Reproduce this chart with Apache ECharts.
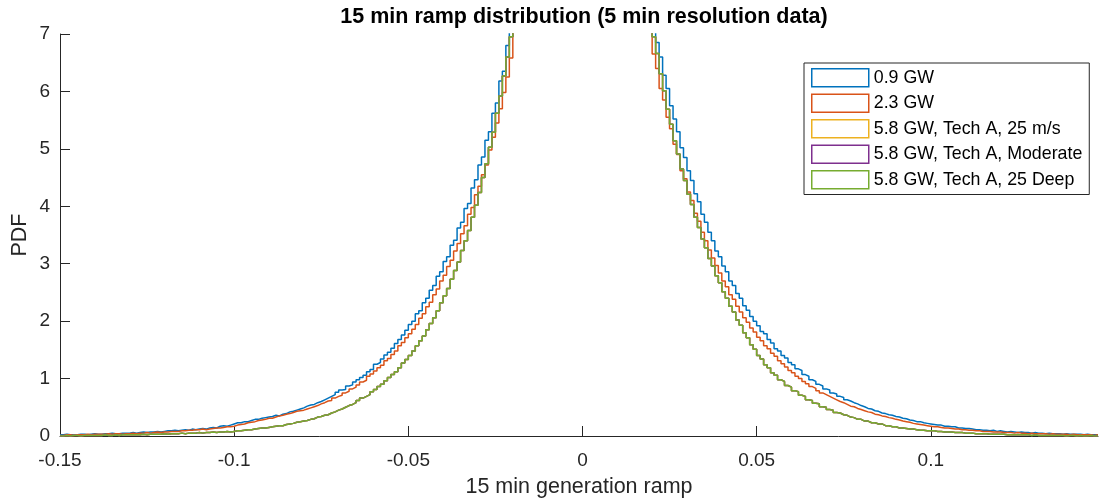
<!DOCTYPE html>
<html><head><meta charset="utf-8">
<script src="https://cdn.jsdelivr.net/npm/echarts@6/dist/echarts.min.js"></script>
<style>html,body{margin:0;padding:0;background:#fff}#c{width:1100px;height:499px}</style>
</head><body><div id="c"></div>
<script>
const chartTitle = '15 min ramp distribution (5 min resolution data)';
const xName = '15 min generation ramp';
const yName = 'PDF';
const xTickValues = [-0.15, -0.1, -0.05, 0, 0.05, 0.1];
const xTickLabels = ['-0.15', '-0.1', '-0.05', '0', '0.05', '0.1'];
const yTickValues = [0, 1, 2, 3, 4, 5, 6, 7];
const seriesNames = ['0.9 GW', '2.3 GW', '5.8 GW, Tech A, 25 m/s', '5.8 GW, Tech A, Moderate', '5.8 GW, Tech A, 25 Deep'];
const seriesColors = ['#0072BD', '#D95319', '#EDB120', '#7E2F8E', '#77AC30'];
// histogram bins: left edge of first bin and bin width (x units)
const binStart = -0.15;
const binWidth = 0.001;

// PDF per bin, left to right (298 bins from -0.150 to 0.148); bins near 0 are above the 7 limit
const gw09 = [
0.02,0.03,0.02,0.02,0.02,0.03,0.03,0.02,0.03,0.04,
0.03,0.03,0.04,0.04,0.05,0.04,0.04,0.05,0.05,0.05,
0.06,0.05,0.06,0.07,0.06,0.07,0.07,0.08,0.07,0.08,
0.09,0.09,0.10,0.09,0.10,0.11,0.10,0.12,0.11,0.12,
0.13,0.12,0.14,0.15,0.14,0.17,0.18,0.17,0.19,0.21,
0.23,0.23,0.25,0.25,0.27,0.29,0.29,0.31,0.32,0.33,
0.34,0.36,0.35,0.38,0.39,0.42,0.43,0.45,0.47,0.49,
0.52,0.54,0.55,0.58,0.60,0.63,0.66,0.69,0.72,0.76,
0.80,0.81,0.87,0.89,0.94,0.98,1.02,1.06,1.12,1.16,
1.25,1.28,1.34,1.41,1.46,1.53,1.61,1.68,1.76,1.84,
1.94,2.00,2.13,2.18,2.32,2.40,2.54,2.62,2.78,2.86,
3.04,3.12,3.32,3.41,3.62,3.72,3.96,4.05,4.32,4.46,
4.72,4.86,5.15,5.30,5.62,5.80,6.18,6.35,6.80,7.10,
7.5,7.9,8.3,8.8,9.2,9.7,10.2,10.8,11.3,11.9,12.5,13.1,13.8,14.5,15.2,16.0,16.8,17.6,18.4,19.0,
19.0,18.4,17.6,16.8,16.0,15.2,14.5,13.8,13.1,12.5,11.9,11.3,10.8,10.2,9.7,9.2,8.8,8.3,7.9,7.5,
7.05,6.85,6.60,6.28,6.05,5.75,5.52,5.30,5.02,4.85,
4.62,4.45,4.22,4.08,3.86,3.72,3.55,3.40,3.22,3.12,
2.96,2.86,2.70,2.62,2.48,2.40,2.27,2.19,2.08,2.00,
1.92,1.82,1.78,1.68,1.62,1.52,1.48,1.40,1.36,1.28,
1.24,1.17,1.14,1.07,1.04,0.98,0.95,0.90,0.87,0.82,
0.80,0.75,0.73,0.69,0.67,0.63,0.61,0.58,0.56,0.53,
0.51,0.48,0.47,0.44,0.43,0.40,0.39,0.37,0.36,0.34,
0.33,0.31,0.30,0.28,0.27,0.25,0.25,0.23,0.22,0.21,
0.20,0.19,0.19,0.17,0.17,0.16,0.16,0.14,0.14,0.13,
0.13,0.12,0.11,0.11,0.10,0.10,0.09,0.10,0.08,0.09,
0.08,0.07,0.08,0.07,0.06,0.07,0.06,0.06,0.05,0.06,
0.05,0.05,0.04,0.05,0.04,0.04,0.04,0.03,0.04,0.03,
0.03,0.03,0.03,0.02,0.03,0.02,0.02,0.02
];
const gw23 = [
0.01,0.02,0.02,0.01,0.02,0.02,0.02,0.03,0.02,0.03,
0.03,0.03,0.03,0.04,0.03,0.04,0.04,0.03,0.04,0.04,
0.05,0.04,0.05,0.05,0.06,0.05,0.06,0.07,0.06,0.07,
0.07,0.08,0.08,0.08,0.09,0.09,0.10,0.10,0.11,0.11,
0.12,0.11,0.12,0.13,0.14,0.14,0.15,0.16,0.16,0.17,
0.19,0.20,0.21,0.23,0.24,0.25,0.27,0.28,0.29,0.31,
0.31,0.33,0.35,0.36,0.38,0.39,0.41,0.43,0.44,0.45,
0.47,0.49,0.51,0.53,0.56,0.58,0.61,0.62,0.66,0.69,
0.71,0.75,0.78,0.82,0.85,0.89,0.94,0.97,1.04,1.08,
1.13,1.19,1.23,1.31,1.35,1.42,1.48,1.57,1.63,1.71,
1.78,1.86,1.94,2.05,2.13,2.25,2.33,2.46,2.56,2.70,
2.80,2.95,3.06,3.22,3.35,3.52,3.66,3.86,3.98,4.20,
4.35,4.55,4.72,4.98,5.20,5.45,5.70,5.98,6.25,6.58,
7.2,7.5,7.9,8.3,8.7,9.1,9.6,10.1,10.6,11.2,11.8,12.4,13.0,13.7,14.4,15.1,15.9,16.7,17.5,18.2,
18.2,17.5,16.7,15.9,15.1,14.4,13.7,13.0,12.4,11.8,11.2,10.6,10.1,9.6,9.1,8.7,8.3,7.9,7.5,7.2,
6.65,6.40,6.05,5.85,5.55,5.35,5.08,4.90,4.62,4.48,
4.25,4.10,3.88,3.74,3.55,3.40,3.24,3.10,2.97,2.84,
2.70,2.60,2.46,2.38,2.26,2.16,2.06,1.98,1.88,1.81,
1.72,1.66,1.57,1.52,1.44,1.39,1.31,1.26,1.20,1.14,
1.10,1.04,1.00,0.95,0.91,0.86,0.83,0.79,0.75,0.72,
0.69,0.66,0.63,0.60,0.58,0.55,0.52,0.51,0.48,0.46,
0.44,0.42,0.41,0.38,0.37,0.35,0.34,0.32,0.31,0.29,
0.28,0.26,0.25,0.24,0.22,0.21,0.20,0.19,0.18,0.17,
0.16,0.16,0.15,0.14,0.14,0.13,0.12,0.12,0.11,0.11,
0.10,0.10,0.09,0.09,0.08,0.08,0.08,0.07,0.07,0.07,
0.06,0.06,0.06,0.05,0.06,0.05,0.05,0.04,0.05,0.04,
0.04,0.04,0.04,0.03,0.04,0.03,0.03,0.03,0.03,0.02,
0.03,0.02,0.02,0.02,0.02,0.02,0.01,0.02
];
const deep25 = [
0.00,0.01,0.00,0.01,0.01,0.00,0.01,0.01,0.01,0.01,
0.01,0.01,0.02,0.01,0.01,0.02,0.01,0.02,0.02,0.02,
0.02,0.02,0.02,0.03,0.02,0.03,0.03,0.03,0.03,0.04,
0.03,0.04,0.04,0.04,0.05,0.04,0.05,0.05,0.05,0.06,
0.05,0.06,0.06,0.07,0.06,0.07,0.07,0.08,0.07,0.08,
0.09,0.09,0.10,0.11,0.11,0.12,0.13,0.14,0.14,0.15,
0.16,0.17,0.18,0.18,0.20,0.21,0.22,0.24,0.25,0.26,
0.27,0.29,0.30,0.33,0.34,0.36,0.37,0.40,0.42,0.45,
0.47,0.50,0.53,0.55,0.58,0.62,0.66,0.69,0.72,0.77,
0.81,0.86,0.90,0.96,1.02,1.07,1.12,1.19,1.27,1.33,
1.40,1.48,1.57,1.66,1.74,1.85,1.96,2.06,2.18,2.32,
2.44,2.57,2.73,2.88,3.03,3.23,3.40,3.58,3.81,4.02,
4.24,4.50,4.74,5.03,5.29,5.62,5.92,6.27,6.60,6.95,
7.3,7.7,8.1,8.6,9.1,9.6,10.2,10.8,11.4,12.0,12.7,13.4,14.1,14.9,15.7,16.5,17.4,18.3,19.2,20.0,
20.0,19.2,18.3,17.4,16.5,15.7,14.9,14.1,13.4,12.7,12.0,11.4,10.8,10.2,9.6,9.1,8.6,8.1,7.7,7.3,
6.95,6.66,6.31,6.01,5.69,5.43,5.14,4.91,4.65,4.45,
4.21,4.03,3.81,3.63,3.43,3.28,3.09,2.96,2.79,2.67,
2.51,2.40,2.26,2.16,2.02,1.93,1.80,1.71,1.59,1.51,
1.40,1.34,1.24,1.19,1.10,1.06,0.98,0.95,0.88,0.85,
0.79,0.77,0.71,0.69,0.63,0.62,0.57,0.56,0.51,0.50,
0.46,0.45,0.41,0.40,0.37,0.36,0.33,0.32,0.29,0.29,
0.26,0.26,0.23,0.23,0.21,0.21,0.18,0.18,0.16,0.16,
0.14,0.14,0.13,0.12,0.12,0.11,0.10,0.10,0.09,0.09,
0.09,0.08,0.08,0.07,0.07,0.07,0.06,0.06,0.06,0.05,
0.05,0.05,0.04,0.04,0.04,0.04,0.03,0.03,0.03,0.03,
0.03,0.02,0.02,0.02,0.02,0.02,0.02,0.02,0.01,0.02,
0.01,0.01,0.01,0.01,0.01,0.01,0.01,0.01,0.00,0.01,
0.01,0.00,0.01,0.00,0.00,0.01,0.00,0.00
];
// The 25 m/s and Moderate curves are indistinguishable from 25 Deep in the reference (drawn underneath it)
const ms25 = deep25;
const moderate = deep25;

const seriesValues = [gw09, gw23, ms25, moderate, deep25];

function stairs(vals) {
  const pts = [];
  for (let i = 0; i < vals.length; i++) pts.push([+(binStart + i * binWidth).toFixed(4), vals[i]]);
  pts.push([+(binStart + vals.length * binWidth).toFixed(4), vals[vals.length - 1]]);
  return pts;
}

const FONT = '"Liberation Sans", Arial, Helvetica, sans-serif';
const chart = echarts.init(document.getElementById('c'), null, { renderer: 'canvas' });
chart.setOption({
  animation: false,
  backgroundColor: '#fff',
  grid: { left: 60, right: 2, top: 34, bottom: 63, containLabel: false, outerBoundsMode: 'none' },
  graphic: [{
    type: 'text', x: 584, y: 17,
    style: { text: chartTitle, textAlign: 'center', textVerticalAlign: 'middle', fill: '#000',
      font: 'bold 21.5px ' + FONT }
  }],
  legend: {
    orient: 'vertical', left: 804, top: 63,
    itemWidth: 57, itemHeight: 18, itemGap: 6,
    padding: [5, 7, 5, 7],
    borderColor: '#262626', borderWidth: 1, borderRadius: 0, backgroundColor: '#fff',
    icon: 'rect',
    textStyle: { fontFamily: FONT, fontSize: 17.8, color: '#000' },
    data: seriesNames.map((n, i) => ({ name: n, icon: 'rect', itemStyle: { color: '#fff', borderColor: seriesColors[i], borderWidth: 1.5 } }))
  },
  xAxis: {
    type: 'value', min: -0.15, max: 0.148,
    axisLine: { onZero: false, lineStyle: { color: '#262626', width: 1 } },
    axisTick: { inside: true, length: 10, lineStyle: { color: '#262626' }, customValues: xTickValues },
    axisLabel: { customValues: xTickValues, fontFamily: FONT, fontSize: 19, color: '#262626', margin: 15,
      formatter: v => { const k = xTickValues.findIndex(t => Math.abs(t - v) < 1e-9); return k >= 0 ? xTickLabels[k] : ''; } },
    splitLine: { show: false },
    name: xName, nameLocation: 'middle', nameGap: 40, nameMoveOverlap: false,
    nameTextStyle: { fontFamily: FONT, fontSize: 21.5, color: '#262626' }
  },
  yAxis: {
    type: 'value', min: 0, max: 7, interval: 1,
    axisLine: { show: true, onZero: false, lineStyle: { color: '#262626', width: 1 } },
    axisTick: { show: true, inside: true, length: 10, lineStyle: { color: '#262626' } },
    axisLabel: { fontFamily: FONT, fontSize: 19, color: '#262626', margin: 10, padding: [6, 0, 0, 0],
      formatter: v => String(yTickValues[yTickValues.indexOf(v)] ?? v) },
    splitLine: { show: false },
    name: yName, nameLocation: 'middle', nameGap: 29, nameRotate: 90, nameMoveOverlap: false,
    nameTextStyle: { fontFamily: FONT, fontSize: 21.5, color: '#262626' }
  },
  series: seriesValues.map((vals, i) => ({
    type: 'line', name: seriesNames[i], data: stairs(vals), step: 'end',
    symbol: 'none', showSymbol: false, clip: true, z: 2 + i,
    lineStyle: { width: 1.5, color: seriesColors[i] },
    itemStyle: { color: seriesColors[i] }
  }))
});
</script>
</body></html>
